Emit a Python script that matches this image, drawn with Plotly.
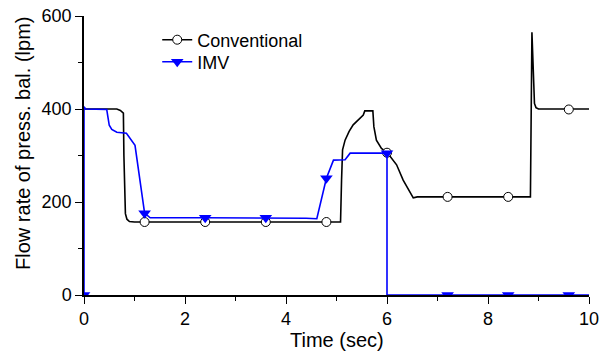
import plotly.graph_objects as go

# Conventional (black) curve
conv_t = [0, 0.65, 0.72, 0.78, 0.79, 0.80, 0.82, 0.85, 0.90, 1.0, 2.4, 3.6, 4.8, 5.08,
          5.10, 5.12, 5.17, 5.25, 5.33, 5.45, 5.53, 5.56, 5.72, 5.74, 5.79, 5.89, 6.0,
          6.19, 6.32, 6.52, 6.6, 7.2, 8.4, 8.84, 8.87, 8.90, 8.92, 8.95, 9.0, 9.6, 10.0]
conv_y = [400, 400, 397, 391, 300, 220, 175, 163, 158, 157, 157, 157, 157, 157,
          247, 312, 333, 352, 366, 380, 387, 396, 396, 362, 333, 315, 307,
          280, 247, 209, 211, 211, 211, 211, 565, 450, 412, 403, 400, 400, 400]
conv_mark_t = [1.2, 2.4, 3.6, 4.8, 6.0, 7.2, 8.4, 9.6]
conv_mark_y = [157, 157, 157, 157, 306, 211, 211, 399]

# IMV (blue) curve
imv_t = [0, 0, 0.03, 0.45, 0.47, 0.50, 0.55, 0.65, 0.84, 0.94, 1.01, 1.2, 1.31, 2.4, 3.6,
         4.4, 4.61, 4.8, 4.94, 5.17, 5.27, 6.0, 6.0, 7.2, 8.4, 9.6, 10.0]
imv_y = [0, 405, 400, 399, 385, 365, 356, 350, 348, 333, 322, 176, 166, 166, 166,
         165, 164, 251, 290, 291, 305, 305, 0, 0, 0, 0, 0]
imv_mark_t = [0, 1.2, 2.4, 3.6, 4.8, 6.0, 7.2, 8.4, 9.6]
imv_mark_y = [0, 176, 166, 166, 251, 305, 0, 0, 0]

x_ticks = [0, 2, 4, 6, 8, 10]
y_ticks = [0, 200, 400, 600]
x_title = "Time (sec)"
y_title = "Flow rate of press. bal. (lpm)"

BLUE = "#0000FF"
FAM = "Liberation Sans, Arial, sans-serif"
fig = go.Figure()

fig.add_trace(go.Scatter(x=conv_t, y=conv_y, mode="lines", showlegend=False,
                         line=dict(color="black", width=1.6)))
fig.add_trace(go.Scatter(x=conv_mark_t, y=conv_mark_y, mode="markers", showlegend=False,
                         marker=dict(symbol="circle", size=9, color="white",
                                     line=dict(color="black", width=1))))
fig.add_trace(go.Scatter(x=imv_t, y=imv_y, mode="lines", showlegend=False,
                         line=dict(color=BLUE, width=1.6)))
fig.add_trace(go.Scatter(x=imv_mark_t, y=imv_mark_y, mode="markers", showlegend=False,
                         marker=dict(symbol="triangle-down", size=11, color=BLUE,
                                     line=dict(width=0))))

# legend entries
fig.add_trace(go.Scatter(x=[None], y=[None], mode="lines+markers", name="Conventional",
                         legend="legend",
                         line=dict(color="black", width=1.6),
                         marker=dict(symbol="circle", size=9, color="white",
                                     line=dict(color="black", width=1))))
fig.add_trace(go.Scatter(x=[None], y=[None], mode="lines+markers", name="IMV",
                         legend="legend2",
                         line=dict(color=BLUE, width=1.6),
                         marker=dict(symbol="triangle-down", size=11, color=BLUE,
                                     line=dict(width=0))))

tick_font = dict(family=FAM, size=18, color="black")
leg_font = dict(family=FAM, size=18, color="black")
title_font = dict(family=FAM, size=20, color="black")

fig.update_layout(
    width=609, height=358,
    margin=dict(l=84, r=20, t=16, b=63, autoexpand=False),
    plot_bgcolor="white", paper_bgcolor="white",
    font=tick_font,
    showlegend=True,
    legend=dict(x=0.145, y=0.914, xanchor="left", yanchor="middle",
                bgcolor="rgba(0,0,0,0)", font=leg_font),
    legend2=dict(x=0.145, y=0.835, xanchor="left", yanchor="middle",
                 bgcolor="rgba(0,0,0,0)", font=leg_font),
    xaxis=dict(range=[0, 10], tickvals=x_ticks, ticks="outside", ticklen=7,
               tickwidth=1.3, tickcolor="black", showline=True, linecolor="black",
               linewidth=1.5, showgrid=False, zeroline=False, layer="below traces",
               tickfont=tick_font, automargin=False,
               minor=dict(dtick=1, ticks="outside", ticklen=4, tickwidth=1.3,
                          tickcolor="black", showgrid=False)),
    yaxis=dict(range=[0, 600], tickvals=y_ticks, ticks="outside", ticklen=7,
               tickwidth=1.3, tickcolor="black", showline=True, linecolor="black",
               linewidth=1.5, showgrid=False, zeroline=False, layer="below traces",
               tickfont=tick_font, automargin=False,
               minor=dict(dtick=100, ticks="outside", ticklen=4, tickwidth=1.3,
                          tickcolor="black", showgrid=False)),
    annotations=[
        dict(text=x_title, xref="paper", yref="paper", x=0.5, y=-0.161,
             xanchor="center", yanchor="middle", showarrow=False, font=title_font),
        dict(text=y_title, xref="paper", yref="paper", x=-0.1208, y=0.545,
             xanchor="center", yanchor="middle", textangle=-90, showarrow=False,
             font=title_font),
    ],
)

fig.write_html("out.html")
